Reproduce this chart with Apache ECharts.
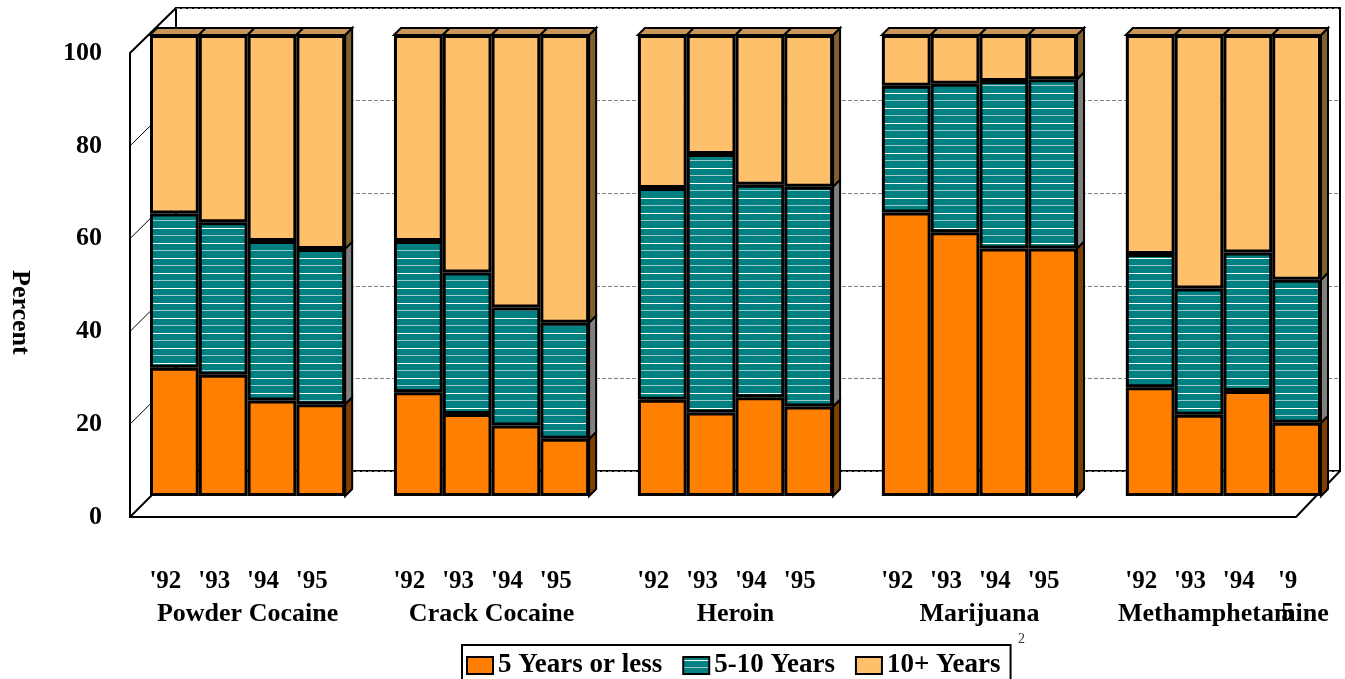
<!DOCTYPE html>
<html lang="en">
<head>
    <meta charset="UTF-8">
    <title>Years of use</title>
    <script src="https://cdn.jsdelivr.net/npm/echarts@6/dist/echarts.min.js"></script>
    <style>
        html, body { margin: 0; padding: 0; background: #fff; }
    </style>
</head>
<body>
    <div id="main" style="width: 1345px;height:679px;"></div>

<script>
    // x categories, blank slots are the gaps between drug groups
    var categories = ["'92", "'93", "'94", "'95", "",
                      "'92", "'93", "'94", "'95", "",
                      "'92", "'93", "'94", "'95", "",
                      "'92", "'93", "'94", "'95", "",
                      "'92", "'93", "'94", "'9\n5"];
    var drugNames = ['Powder Cocaine', 'Crack Cocaine', 'Heroin', 'Marijuana', 'Methamphetamine'];
    var drugCenters = [1.5, 6.5, 11.5, 16.5, 21.5];
    var yTicks = [0, 20, 40, 60, 80, 100];

    // percent per bar
    var fiveOrLess = [27.8, 26.3, 20.7, 19.9, null,
                      22.5, 17.8, 15.3, 12.4, null,
                      20.9, 18.1, 21.4, 19.4, null,
                      61.5, 57.2, 53.7, 53.7, null,
                      23.6, 17.6, 22.8, 15.9];
    var fiveToTen  = [33.5, 33.1, 34.6, 33.7, null,
                      32.8, 30.7, 25.6, 25.2, null,
                      45.9, 56.1, 46.1, 47.7, null,
                      27.5, 32.2, 36.3, 36.7, null,
                      28.9, 27.4, 30.0, 31.0];
    var tenPlus    = [38.7, 40.6, 44.7, 46.4, null,
                      44.7, 51.5, 59.1, 62.4, null,
                      33.2, 25.8, 32.5, 32.9, null,
                      11.0, 10.6, 10.0,  9.6, null,
                      47.5, 55.0, 47.2, 53.1];

    var FONT = 'Liberation Serif';

    // teal with white stripes
    function stripes() {
        var c = document.createElement('canvas');
        c.width = 8; c.height = 15;
        var g = c.getContext('2d');
        g.fillStyle = '#008080';
        g.fillRect(0, 0, 8, 15);
        g.fillStyle = '#ffffff';
        g.fillRect(0, 3, 8, 1);
        g.fillStyle = '#9cc8c8';
        g.fillRect(0, 10, 8, 1);
        return c;
    }

    // tops and side faces of the boxes
    var boxData = [];
    for (var i = 0; i < categories.length; i++) {
        if (fiveOrLess[i] == null) continue;
        var a = fiveOrLess[i], b = a + fiveToTen[i], c = b + tenPlus[i];
        var last = (i + 1 >= categories.length || fiveOrLess[i + 1] == null) ? 1 : 0;
        boxData.push([i, a, b, c, last]);
    }

    var myChart = echarts.init(document.getElementById('main'));

    function renderBox(params, api) {
        var i = api.value(0);
        var p0 = api.coord([i, 0]);
        var p1 = api.coord([i, api.value(1)]);
        var p2 = api.coord([i, api.value(2)]);
        var p3 = api.coord([i, api.value(3)]);
        var w = api.size([1, 0])[0];
        var x0 = p0[0] - w / 2, x1 = p0[0] + w / 2;
        var d = 7;
        var kids = [];
        function face(pts, fill) {
            kids.push({type: 'polygon', shape: {points: pts},
                style: {fill: fill, stroke: '#000', lineWidth: 2}});
        }
        function side(lo, hi, fill) {
            face([[x1, lo[1]], [x1, hi[1]], [x1 + d, hi[1] - d], [x1 + d, lo[1] - d]], fill);
        }
        if (api.value(4)) {
            side(p0, p1, '#7f3f00');
            side(p1, p2, '#808080');
            side(p2, p3, '#80602f');
        }
        face([[x0, p3[1]], [x1, p3[1]], [x1 + d, p3[1] - d], [x0 + d, p3[1] - d]], '#c8965a');
        return {type: 'group', children: kids};
    }

    var barBorder = {borderColor: '#000', borderWidth: 3};

    var option = {
        animation: false,
        textStyle: {fontFamily: FONT},
        grid: [
            // bars
            {left: 150, right: 24, top: 35, bottom: 183},
            // front plane
            {left: 130, right: 49, top: 53, bottom: 162},
            // back wall
            {left: 176, right: 5, top: 8, bottom: 208, show: true, borderColor: '#000', borderWidth: 2, z: 0}
        ],
        xAxis: [
            {
                type: 'category', gridIndex: 0, data: categories,
                axisLine: {show: false}, axisTick: {show: false},
                axisLabel: {interval: 0, margin: 70, fontFamily: FONT, fontWeight: 'bold',
                    fontSize: 25, color: '#000', lineHeight: 32, padding: [0, 18, 0, 0]}
            },
            {
                type: 'value', gridIndex: 1, min: 0, max: 1,
                axisLine: {show: true, lineStyle: {color: '#000', width: 2}},
                axisTick: {show: false}, axisLabel: {show: false}, splitLine: {show: false}
            },
            {
                type: 'value', gridIndex: 2, min: 0, max: 1,
                axisLine: {show: false}, axisTick: {show: false},
                axisLabel: {show: false}, splitLine: {show: false}
            },
            {
                type: 'value', gridIndex: 0, min: -0.5, max: 23.5, position: 'bottom',
                axisLine: {show: false}, axisTick: {show: false}, splitLine: {show: false},
                axisLabel: {
                    customValues: drugCenters, margin: 102, fontFamily: FONT, fontWeight: 'bold',
                    fontSize: 26, color: '#000', lineHeight: 32,
                    formatter: function (v) {
                        return drugNames[drugCenters.indexOf(v)] || '';
                    }
                }
            }
        ],
        yAxis: [
            {
                type: 'value', gridIndex: 0, min: 0, max: 100,
                show: false
            },
            {
                type: 'value', gridIndex: 1, min: 0, max: 100, interval: 20,
                axisLine: {show: true, lineStyle: {color: '#000', width: 2}},
                axisTick: {show: false}, splitLine: {show: false},
                axisLabel: {margin: 28, fontFamily: FONT, fontWeight: 'bold', fontSize: 26, color: '#000'}
            },
            {
                type: 'value', gridIndex: 2, min: 0, max: 100, interval: 20,
                axisLine: {show: false}, axisTick: {show: false}, axisLabel: {show: false},
                splitLine: {show: true, lineStyle: {color: '#808080', width: 1, type: [4, 2]}}
            }
        ],
        legend: {
            data: ['5 Years or less', '5-10 Years', '10+ Years'],
            left: 462, top: 645,
            padding: [7, 10, 12, 4],
            itemWidth: 26, itemHeight: 17, itemGap: 20,
            borderColor: '#000', borderWidth: 2,
            textStyle: {fontFamily: FONT, fontWeight: 'bold', fontSize: 27, color: '#000'},
            icon: 'rect'
        },
        series: [
            {
                name: '5 Years or less', type: 'bar', stack: 'pct', barWidth: '100%',
                xAxisIndex: 0, yAxisIndex: 0, data: fiveOrLess,
                itemStyle: Object.assign({color: '#ff8000'}, barBorder)
            },
            {
                name: '5-10 Years', type: 'bar', stack: 'pct', barWidth: '100%',
                xAxisIndex: 0, yAxisIndex: 0, data: fiveToTen,
                itemStyle: Object.assign({color: {image: stripes(), repeat: 'repeat'}}, barBorder)
            },
            {
                name: '10+ Years', type: 'bar', stack: 'pct', barWidth: '100%',
                xAxisIndex: 0, yAxisIndex: 0, data: tenPlus,
                itemStyle: Object.assign({color: '#ffc06c'}, barBorder)
            },
            {
                name: 'box', type: 'custom', xAxisIndex: 0, yAxisIndex: 0,
                data: boxData, renderItem: renderBox, silent: true, z: 3,
                encode: {x: 0, y: 3}
            }
        ]
    };

    myChart.setOption(option);

    // 3D frame: lines joining the front plane to the back wall
    var frame = [];
    function link(v, xv, w) {
        var f = myChart.convertToPixel({xAxisIndex: 1, yAxisIndex: 1}, [xv, v]);
        var k = myChart.convertToPixel({xAxisIndex: 2, yAxisIndex: 2}, [xv, v]);
        frame.push({type: 'line', z: 0, shape: {x1: f[0], y1: f[1], x2: k[0], y2: k[1]},
            style: {stroke: '#000', lineWidth: w}});
    }
    for (var t = 0; t < yTicks.length; t++) {
        var v = yTicks[t];
        link(v, 0, (v === 0 || v === 100) ? 2 : 1);
    }
    link(0, 1, 2);
    frame.push({type: 'text', left: 7, top: 270, rotation: -Math.PI / 2, z: 5,
        style: {text: 'Percent', fontFamily: FONT, fontWeight: 'bold', fontSize: 26, fill: '#000'}});
    frame.push({type: 'text', left: 1018, top: 632, z: 5,
        style: {text: '2', fontFamily: FONT, fontSize: 14, fill: '#333'}});
    myChart.setOption({graphic: frame});
</script>
</body>
</html>
